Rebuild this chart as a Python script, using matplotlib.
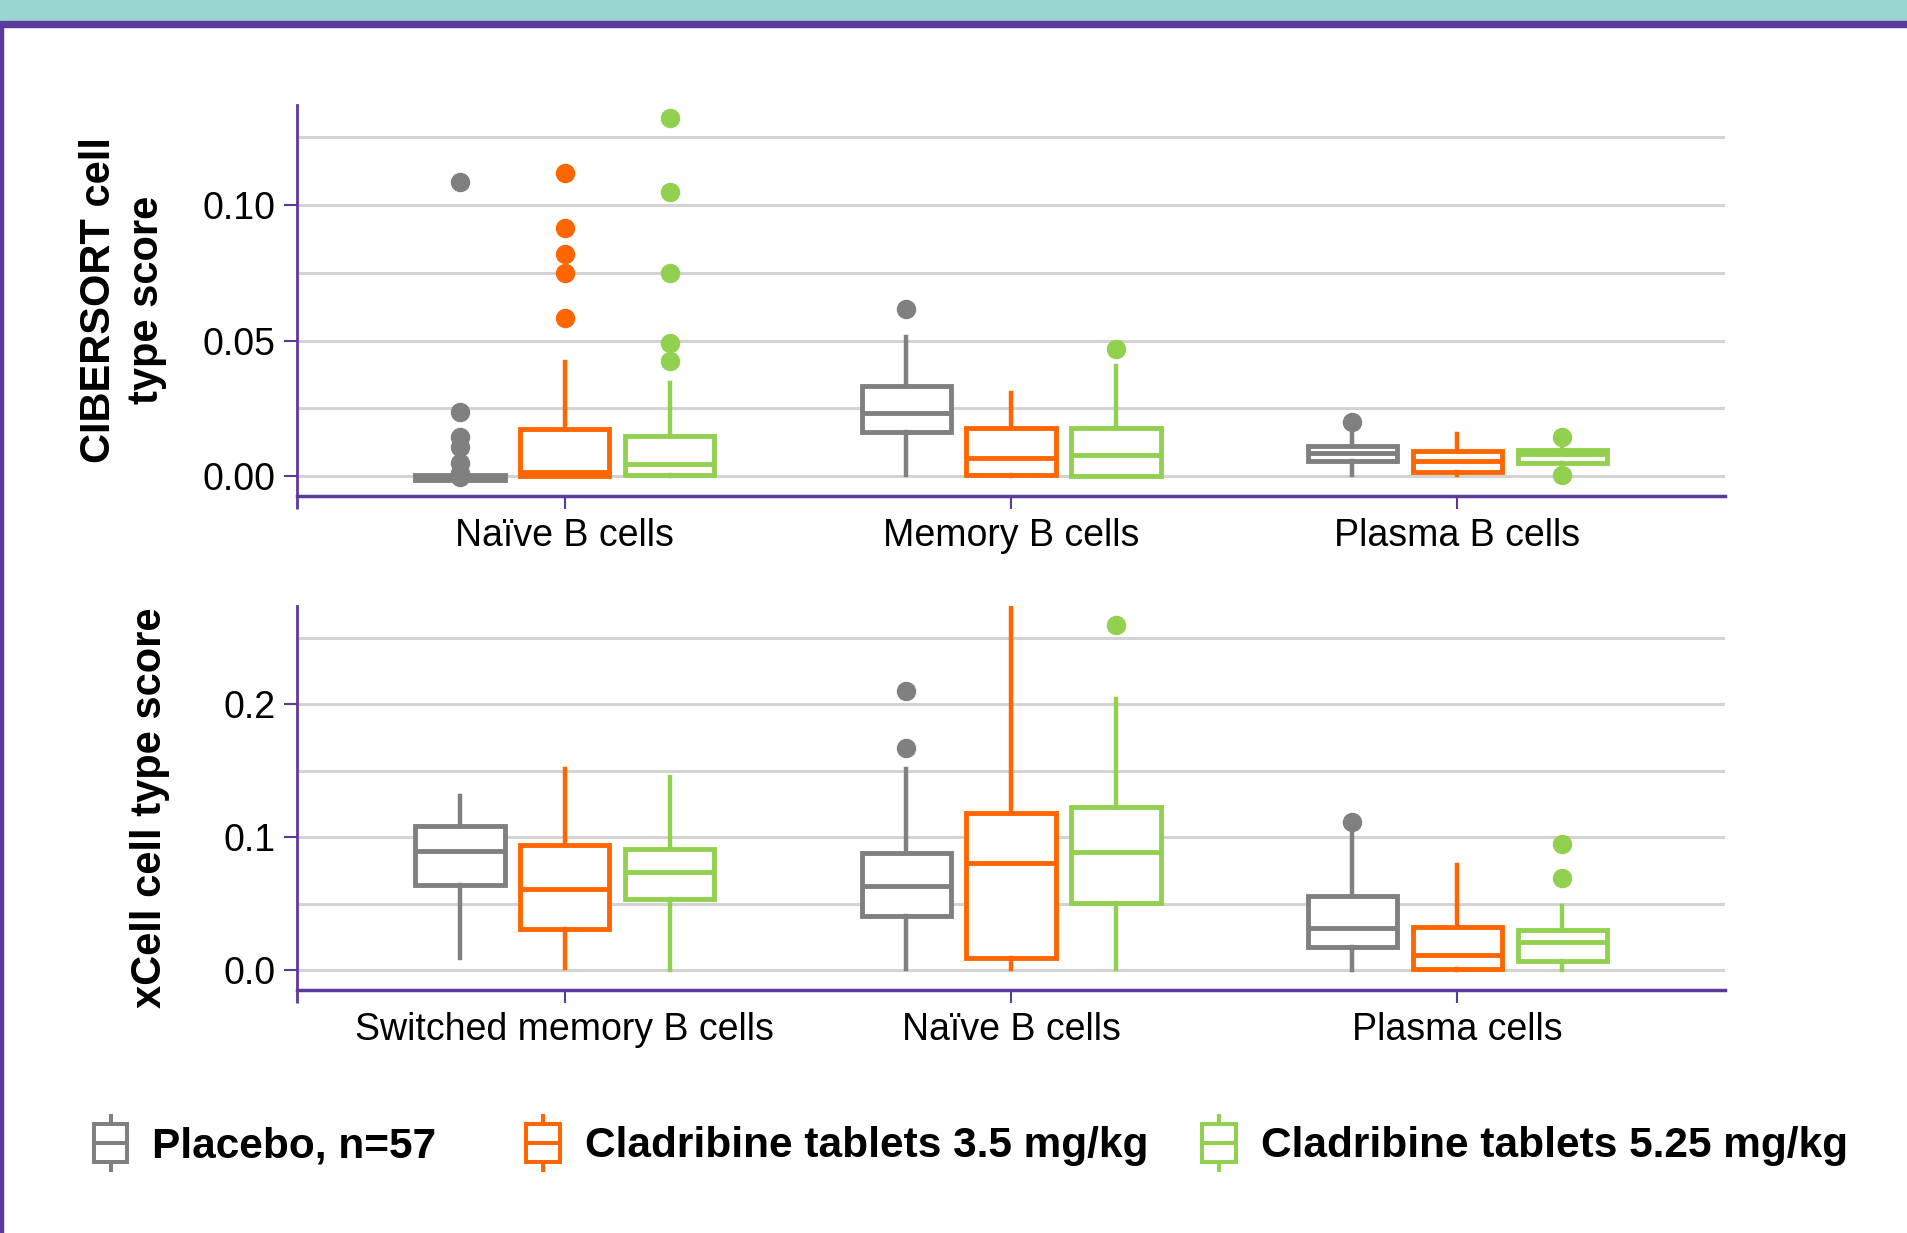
import matplotlib
matplotlib.use("Agg")
import matplotlib.pyplot as plt
from matplotlib.patches import Rectangle, Patch
from matplotlib.lines import Line2D
from matplotlib.legend_handler import HandlerBase
import numpy as np

plt.rcParams['font.family'] = ['Liberation Sans', 'DejaVu Sans']

groups = ["Placebo, n=57", "Cladribine tablets 3.5 mg/kg", "Cladribine tablets 5.25 mg/kg"]
colors = ["#808080", "#FF6600", "#92D050"]

# CIBERSORT panel: rows = group, cols = category
cib_cats = ["Naïve B cells", "Memory B cells", "Plasma B cells"]
cib_q1 = [[-0.0015, 0.0163, 0.0055], [0.0000, 0.0004, 0.0016], [0.0004, 0.0000, 0.0049]]
cib_med = [[-0.0005, 0.0234, 0.0085], [0.0015, 0.0066, 0.0056], [0.0044, 0.0077, 0.0081]]
cib_q3 = [[0.0003, 0.0333, 0.0112], [0.0175, 0.0178, 0.0093], [0.0148, 0.0176, 0.0096]]
cib_lo = [[-0.0015, 0.0004, 0.0004], [0.0000, 0.0000, 0.0003], [0.0000, 0.0000, 0.0040]]
cib_hi = [[0.0003, 0.0512, 0.0155], [0.0420, 0.0307, 0.0155], [0.0343, 0.0406, 0.0114]]
cib_out = [
    [[0.1085, 0.0236, 0.0144, 0.0107, 0.0048, 0.0011, -0.0004], [0.0616], [0.0201]],
    [[0.1118, 0.0916, 0.0819, 0.0749, 0.0584], [], []],
    [[0.1321, 0.1048, 0.0749, 0.0491, 0.0424], [0.0470], [0.0145, 0.0003]],
]

# xCell panel
xc_cats = ["Switched memory B cells", "Naïve B cells", "Plasma cells"]
xc_q1 = [[0.0639, 0.0406, 0.0175], [0.0308, 0.0093, 0.0005], [0.0534, 0.0501, 0.0068]]
xc_med = [[0.0895, 0.0632, 0.0318], [0.0607, 0.0802, 0.0113], [0.0734, 0.0885, 0.0213]]
xc_q3 = [[0.1083, 0.0882, 0.0559], [0.0940, 0.1178, 0.0321], [0.0910, 0.1228, 0.0301]]
xc_lo = [[0.0088, 0.0010, 0.0000], [0.0013, 0.0010, 0.0000], [0.0000, 0.0010, 0.0000]]
xc_hi = [[0.1308, 0.1510, 0.1080], [0.1511, 0.2750, 0.0790], [0.1454, 0.2038, 0.0484]]
xc_out = [
    [[], [0.2098, 0.1672], [0.1115]],
    [[], [], []],
    [[], [0.2591], [0.0945, 0.0689]],
]

purple = "#5B3A9B"
grid_c = "#D3D3D3"
offsets = [-0.235, 0.0, 0.235]
lw = 3.5

fig = plt.figure(figsize=(19.08, 12.33), dpi=100)

# frame decorations
fig.patches.append(Rectangle((0, 1 - 21 / 1233), 1, 21 / 1233, transform=fig.transFigure,
                             color="#9AD6D0", zorder=0))
fig.patches.append(Rectangle((0, 1 - 27 / 1233), 1, 6 / 1233, transform=fig.transFigure,
                             color=purple, zorder=1))
fig.patches.append(Rectangle((0, 0), 3 / 1908, 1 - 27 / 1233, transform=fig.transFigure,
                             color=purple, zorder=1))

ax_top = fig.add_axes([0.1557, 0.5977, 0.7484, 0.3171])
ax_bot = fig.add_axes([0.1557, 0.1971, 0.7484, 0.3114])


def draw_panel(ax, cats, q1, med, q3, lo, hi, out):
    for g in range(3):
        stats = []
        for k in range(len(cats)):
            stats.append(dict(med=med[g][k], q1=q1[g][k], q3=q3[g][k],
                              whislo=lo[g][k], whishi=hi[g][k],
                              fliers=np.array(out[g][k])))
        c = colors[g]
        ax.bxp(stats, positions=np.arange(len(cats)) + offsets[g], widths=0.2,
               patch_artist=True, showcaps=False, showfliers=True,
               boxprops=dict(facecolor="white", edgecolor=c, linewidth=lw),
               whiskerprops=dict(color=c, linewidth=lw - 0.3),
               medianprops=dict(color=c, linewidth=lw, solid_capstyle="butt"),
               flierprops=dict(marker="o", markerfacecolor=c, markeredgecolor=c,
                               markersize=13, linestyle="none"),
               zorder=3)
    ax.set_xticks(np.arange(len(cats)))
    ax.set_xticklabels(cats)
    ax.set_xlim(-0.6, 2.6)
    ax.set_xticks([-0.6], minor=True)
    for s in ["top", "right"]:
        ax.spines[s].set_visible(False)
    ax.spines["left"].set_color(purple)
    ax.spines["left"].set_linewidth(2.0)
    ax.spines["bottom"].set_color(purple)
    ax.spines["bottom"].set_linewidth(2.5)
    ax.tick_params(axis="both", which="major", length=9.5, width=1.5, color=purple,
                   labelsize=27, pad=6)
    ax.tick_params(axis="x", which="minor", length=9.5, width=2.0, color=purple)
    ax.tick_params(axis="y", which="minor", length=0)
    ax.grid(True, axis="y", which="both", color=grid_c, linewidth=2.2, zorder=0)
    ax.set_axisbelow(True)


draw_panel(ax_top, cib_cats, cib_q1, cib_med, cib_q3, cib_lo, cib_hi, cib_out)
ax_top.set_ylim(-0.0074, 0.1369)
ax_top.set_yticks([0.0, 0.05, 0.10])
ax_top.set_yticklabels(["0.00", "0.05", "0.10"])
ax_top.set_yticks([0.025, 0.075, 0.125], minor=True)

draw_panel(ax_bot, xc_cats, xc_q1, xc_med, xc_q3, xc_lo, xc_hi, xc_out)
ax_bot.set_ylim(-0.015, 0.2737)
ax_bot.set_yticks([0.0, 0.1, 0.2])
ax_bot.set_yticklabels(["0.0", "0.1", "0.2"])
ax_bot.set_yticks([0.05, 0.15, 0.25], minor=True)

fig.text(0.0645, 0.7567, "CIBERSORT cell\ntype score", rotation=90, ha="center", va="center",
         fontsize=30, fontweight="bold", linespacing=1.25)
fig.text(0.0786, 0.3447, "xCell cell type score", rotation=90, ha="center", va="center",
         fontsize=30, fontweight="bold")


class BoxIcon(HandlerBase):
    def create_artists(self, legend, orig_handle, xdescent, ydescent, width, height,
                       fontsize, trans):
        c = orig_handle.get_edgecolor()
        cx = -xdescent + width / 2
        cy = -ydescent + height / 2
        bw, bh, wh = 24.0, 27.0, 39.0
        whisk = Line2D([cx, cx], [cy - wh / 2, cy + wh / 2], color=c, linewidth=2.9,
                       transform=trans)
        box = Rectangle((cx - bw / 2, cy - bh / 2), bw, bh, facecolor="white",
                        edgecolor=c, linewidth=2.9, transform=trans)
        mid = Line2D([cx - bw / 2, cx + bw / 2], [cy, cy], color=c, linewidth=2.9,
                     transform=trans)
        return [whisk, box, mid]


legend_x = [0.048, 0.2746, 0.6289]
for g in range(3):
    h = Patch(edgecolor=colors[g], facecolor="white")
    fig.legend(handles=[h], labels=[groups[g]], loc="center left",
               bbox_to_anchor=(legend_x[g], 0.073), frameon=False,
               handler_map={Patch: BoxIcon()}, handlelength=0.9, handleheight=1.3,
               handletextpad=0.53, borderpad=0, borderaxespad=0,
               prop=dict(weight="bold", size=30.5))

fig.savefig("out.png", dpi=100)
